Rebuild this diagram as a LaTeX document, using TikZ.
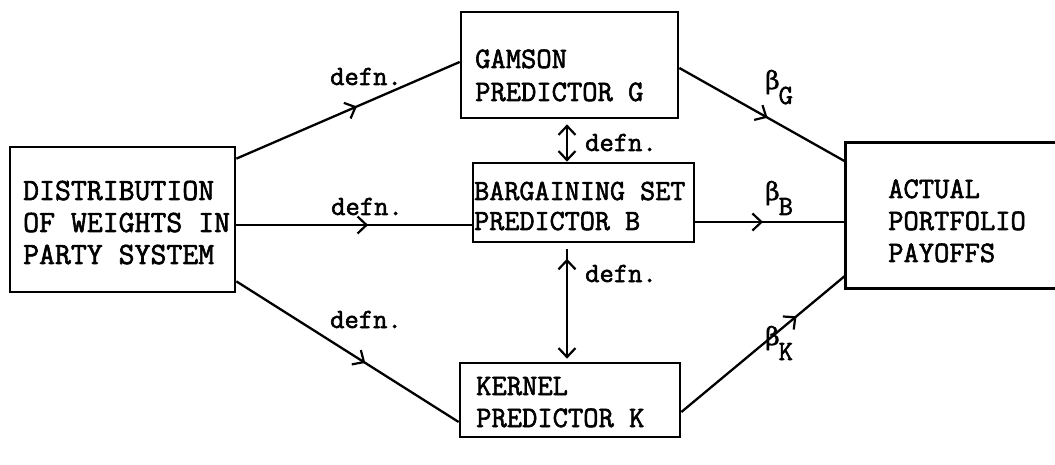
\documentclass[tikz,border=0pt]{standalone}
\usepackage{fontspec}
\newfontfamily\tw{Latin Modern Mono}[FakeBold=2]
\newfontfamily\gk{DejaVu Serif}[FakeBold=1.5]
\usetikzlibrary{arrows.meta,decorations.markings}
\newcommand\boxlines[1]{\begin{tabular}[t]{@{}l@{}}#1\end{tabular}}
\newcommand\betasub[1]{\raisebox{-2pt}{\gk\fontsize{25}{25}\selectfont β}\kern-1pt\raisebox{-17pt}{#1}}

\begin{document}
\begin{tikzpicture}[x=1pt,y=-1pt,
  box/.style={draw, line width=2.7pt, inner sep=0pt},
  txt/.style={anchor=base west, inner sep=0pt, font=\tw\fontsize{29.7}{#1}\selectfont},
  lab/.style={anchor=base west, inner sep=0pt, font=\tw\fontsize{27.8}{28}\selectfont},
  conn/.style={draw, line width=2.3pt},
  barb/.tip={Straight Barb[length=9pt,width=17pt,line width=2.2pt]},
  midbarb/.style={postaction={decorate},
    decoration={markings, mark=at position #1 with {\arrow{barb}}}}]

\useasboundingbox[fill=white] (0,0) rectangle (1055,465);

% boxes
\node[box, minimum width=225pt, minimum height=145pt] (dist) at (122.5,219.5) {};
\node[box, minimum width=217pt, minimum height=106pt] (gam)  at (569.5,65) {};
\node[box, minimum width=221pt, minimum height=79pt]  (barg) at (583.5,202.5) {};
\node[box, minimum width=220pt, minimum height=74pt]  (kern) at (570,400) {};
\node[minimum width=209pt, minimum height=145pt, inner sep=0pt] (act) at (950.5,215.5) {};
\draw[line width=2.7pt] (act.north east) -- (act.north west) -- (act.south west) -- (act.south east);

% box texts
\node[txt=32, font=\tw\fontsize{30.9}{32}\selectfont] (distT) at (23,200)
  {\boxlines{DISTRIBUTION\\OF WEIGHTS IN\\PARTY SYSTEM}};
\node[txt=33] (gamT)  at (475,68)  {\boxlines{GAMSON\\PREDICTOR G}};
\node[txt=30, font=\tw\fontsize{29.3}{30}\selectfont] (bargT) at (474,200) {\boxlines{BARGAINING SET\\PREDICTOR B}};
\node[txt=32] (kernT) at (476,395) {\boxlines{KERNEL\\PREDICTOR K}};
\node[txt=32] (actT)  at (888,198) {\boxlines{ACTUAL\\PORTFOLIO\\PAYOFFS}};

% definitional links
\draw[conn, midbarb=0.54] ([yshift=-13pt]dist.north east) -- ([yshift=3pt]gam.west);
\draw[conn, midbarb=0.56] ([yshift=-5.5pt]dist.east) -- ([yshift=-22.5pt]barg.west);
\draw[conn, midbarb=0.58] ([yshift=12pt]dist.south east) -- ([yshift=-22pt]kern.west);

% links to payoffs
\draw[conn, midbarb=0.53] ([yshift=-3pt]gam.east) -- ([yshift=-19pt]act.north west);
\draw[conn, midbarb=0.45] ([yshift=-19.5pt]barg.east) -- ([yshift=-6.5pt]act.west);
\draw[conn, midbarb=0.70] ([yshift=-12pt]kern.east) -- ([yshift=13pt]act.south west);

% links between predictors
\draw[conn, {barb}-{barb}, shorten <=5pt]
  ([xshift=-2.5pt]gam.south) -- ([xshift=-2.5pt]gam.south |- barg.north);
\draw[conn, -{barb}, shorten <=6pt, shorten >=3pt, postaction={decorate},
  decoration={markings, mark=at position 0.13 with {\arrowreversed{barb}}}]
  ([xshift=-16.5pt]barg.south) -- ([xshift=-16.5pt]barg.south |- kern.north);

% labels
\node[lab] (l1) at (330,85)  {defn.};
\node[lab] (l2) at (331,215) {defn.};
\node[lab] (l3) at (330,328) {defn.};
\node[lab] (l4) at (585,151) {defn.};
\node[lab] (l5) at (585,282) {defn.};
\node[lab] (bG) at (765,87)  {\betasub{G}};
\node[lab] (bB) at (765,198) {\betasub{B}};
\node[lab] (bK) at (765,343) {\betasub{K}};
\end{tikzpicture}
\end{document}
